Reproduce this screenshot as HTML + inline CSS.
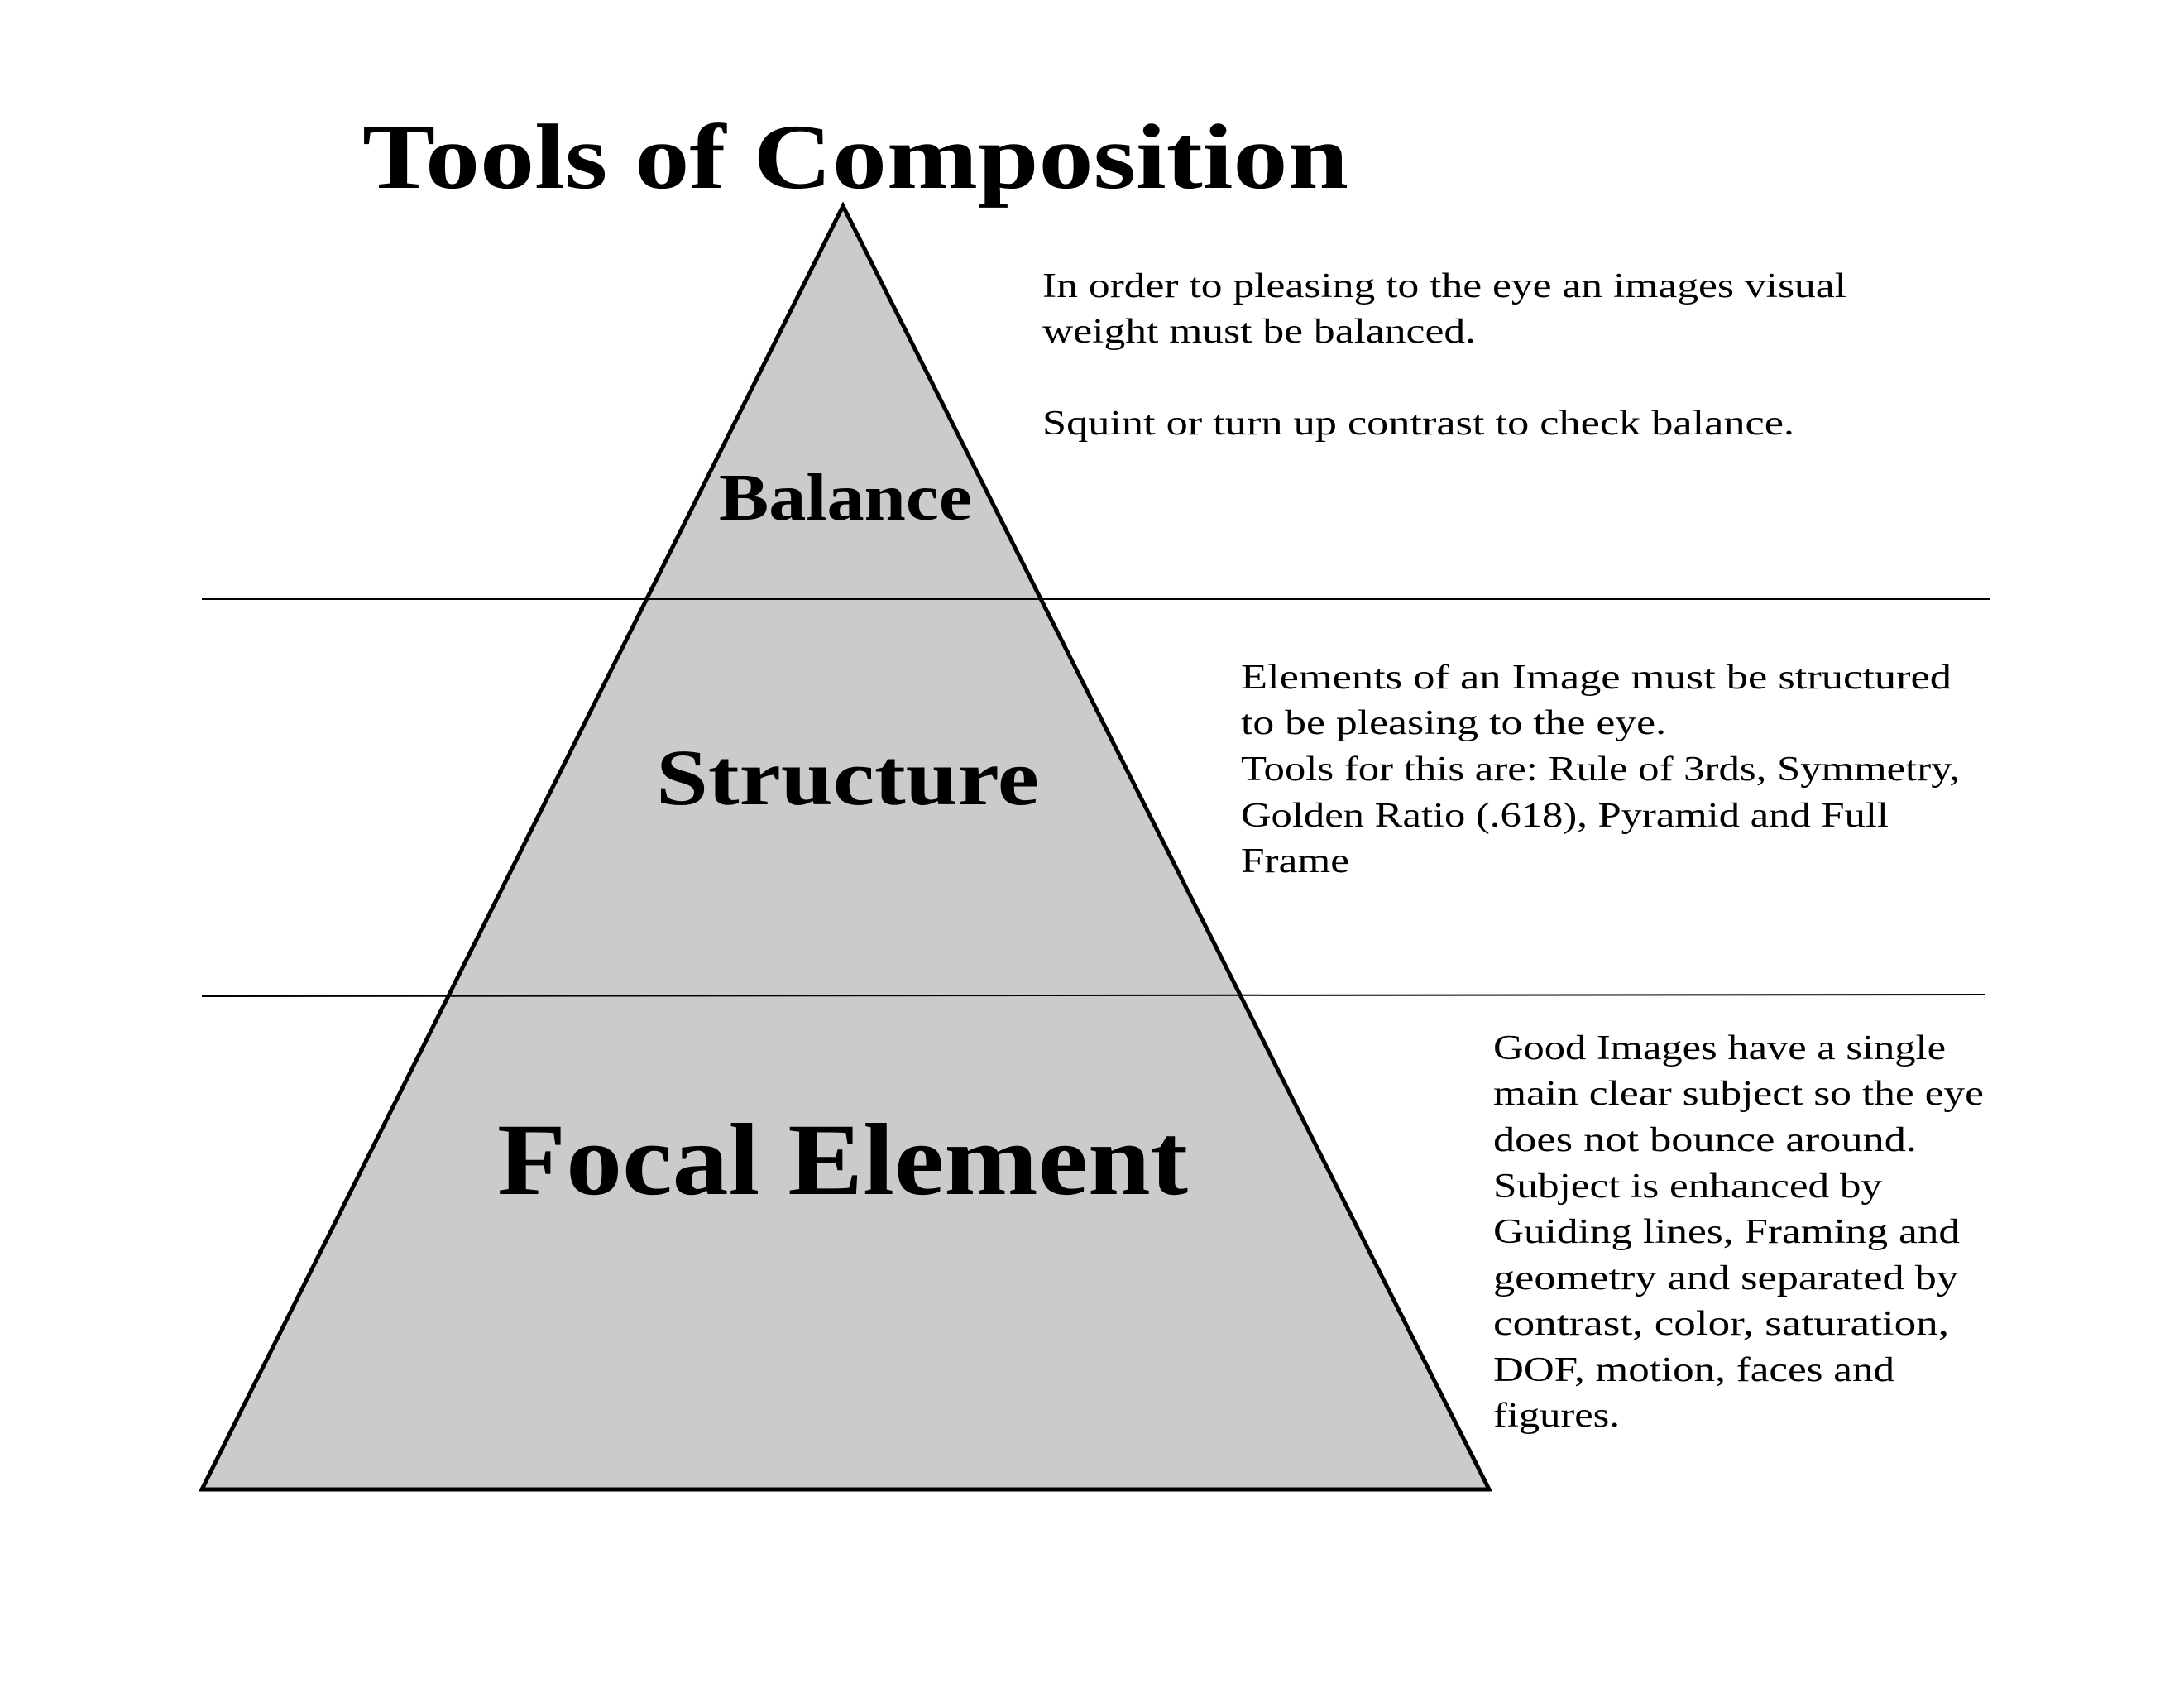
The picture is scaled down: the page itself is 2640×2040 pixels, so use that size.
<!DOCTYPE html>
<html><head><style>html,body{margin:0;padding:0;background:#fff}svg{display:block}</style></head>
<body>
<svg width="2640" height="2040" viewBox="0 0 2640 2040" xmlns="http://www.w3.org/2000/svg">
<rect width="2640" height="2040" fill="#fff"/>
<polygon points="1019,249 244,1800 1800,1800" fill="#cbcbcb" stroke="#000" stroke-width="5" stroke-linejoin="miter"/>
<line x1="244" y1="724" x2="2405" y2="724" stroke="#000" stroke-width="2"/>
<line x1="244" y1="1204" x2="2400" y2="1202" stroke="#000" stroke-width="2"/>
<g font-family="Liberation Serif, serif" font-weight="bold" fill="#000">
<text x="438" y="227" font-size="112" textLength="1192" lengthAdjust="spacingAndGlyphs">Tools of Composition</text>
<text x="869" y="628" font-size="80" textLength="306" lengthAdjust="spacingAndGlyphs">Balance</text>
<text x="793" y="972" font-size="96" textLength="463" lengthAdjust="spacingAndGlyphs">Structure</text>
<text x="601" y="1443" font-size="124" textLength="835" lengthAdjust="spacingAndGlyphs">Focal Element</text>
</g>
<g font-family="Liberation Serif, serif" font-size="42" fill="#000" lengthAdjust="spacingAndGlyphs">
<text x="1260" y="359" textLength="972" lengthAdjust="spacingAndGlyphs">In order to pleasing to the eye an images visual</text>
<text x="1260" y="414" textLength="524" lengthAdjust="spacingAndGlyphs">weight must be balanced.</text>
<text x="1260" y="525" textLength="909" lengthAdjust="spacingAndGlyphs">Squint or turn up contrast to check balance.</text>
<text x="1500" y="832" textLength="859" lengthAdjust="spacingAndGlyphs">Elements of an Image must be structured</text>
<text x="1500" y="887" textLength="514" lengthAdjust="spacingAndGlyphs">to be pleasing to the eye.</text>
<text x="1500" y="943" textLength="869" lengthAdjust="spacingAndGlyphs">Tools for this are: Rule of 3rds, Symmetry,</text>
<text x="1500" y="999" textLength="783" lengthAdjust="spacingAndGlyphs">Golden Ratio (.618), Pyramid and Full</text>
<text x="1500" y="1054" textLength="131" lengthAdjust="spacingAndGlyphs">Frame</text>
<text x="1805" y="1280" textLength="547" lengthAdjust="spacingAndGlyphs">Good Images have a single</text>
<text x="1805" y="1335" textLength="593" lengthAdjust="spacingAndGlyphs">main clear subject so the eye</text>
<text x="1805" y="1391" textLength="512" lengthAdjust="spacingAndGlyphs">does not bounce around.</text>
<text x="1805" y="1447" textLength="470" lengthAdjust="spacingAndGlyphs">Subject is enhanced by</text>
<text x="1805" y="1502" textLength="564" lengthAdjust="spacingAndGlyphs">Guiding lines, Framing and</text>
<text x="1805" y="1558" textLength="562" lengthAdjust="spacingAndGlyphs">geometry and separated by</text>
<text x="1805" y="1613" textLength="551" lengthAdjust="spacingAndGlyphs">contrast, color, saturation,</text>
<text x="1805" y="1669" textLength="485" lengthAdjust="spacingAndGlyphs">DOF, motion, faces and</text>
<text x="1805" y="1724" textLength="153" lengthAdjust="spacingAndGlyphs">figures.</text>
</g>
</svg>
</body></html>
